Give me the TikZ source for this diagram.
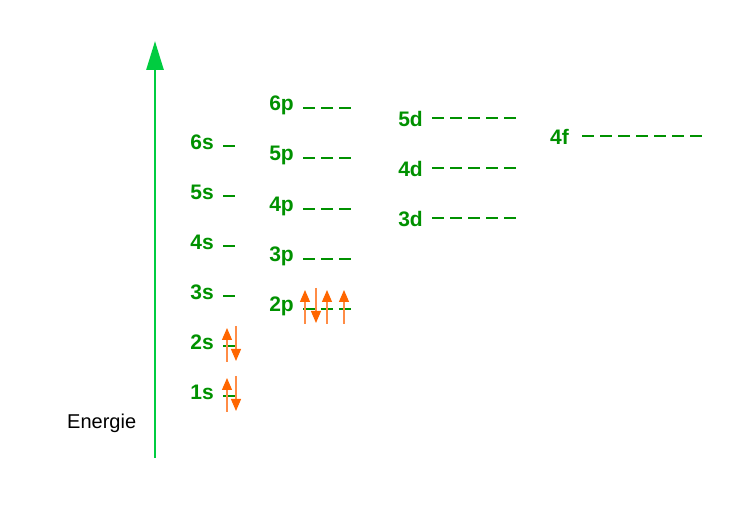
\documentclass[tikz,border=0pt]{standalone}
\usepackage{fontspec}
\setmainfont{Liberation Sans}
\usepackage{tikz}
\usetikzlibrary{arrows.meta}
\definecolor{labelgreen}{RGB}{0,145,0}
\definecolor{axisgreen}{RGB}{0,204,64}
\definecolor{spinorange}{RGB}{255,102,0}
\definecolor{shaftorange}{RGB}{255,140,70}

\begin{document}
\begin{tikzpicture}[x=1pt,y=-1pt,
            lbl/.style={font=\bfseries\fontsize{21}{25}\selectfont,text=labelgreen,inner sep=0pt,anchor=base east},
            level/.style={draw=labelgreen,line width=2.2pt,dash pattern=on 12pt off 6pt},
            electron/.style={draw=shaftorange,line width=1.2pt,-{Triangle[length=12pt,width=10pt,color=spinorange,fill=spinorange]}}
            ]
            \useasboundingbox (0,0) rectangle (748,518);
            
            % The axis
            \coordinate (bottom) at (155,458);
            \coordinate (top) at (155,41);
            \draw[axisgreen,line width=2.8pt,-{Triangle[length=29pt,width=17pt]}] (bottom) -- (top);
            \node[font=\fontsize{20}{24}\selectfont,inner sep=0pt,anchor=base west] (energie) at (67,429) {Energie};
            
            % The levels
            \foreach \n/\y in {1/400,2/350,3/300,4/250,5/200,6/150}
                {\node[lbl] (s\n) at (214,\y) {\n s};
                \draw[level] ([shift={(9pt,4pt)}]s\n.base east) -- ++(12,0);}
            \foreach \n/\y in {2/312,3/262,4/212,5/161,6/111}
                {\node[lbl] (p\n) at (294,\y) {\n p};
                \draw[level] ([shift={(9pt,3pt)}]p\n.base east) -- ++(48,0);}
            \foreach \n/\y in {3/227,4/177,5/127}
                {\node[lbl] (d\n) at (423,\y) {\n d};
                \draw[level] ([shift={(9pt,9pt)}]d\n.base east) -- ++(84,0);}
            \node[lbl] (f4) at (569,145) {4f};
            \draw[level] ([shift={(13pt,9pt)}]f4.base east) -- ++(120,0);
            
            % The electrons
            \foreach \x/\y in {227/396,227/346,305/308,327/308,344/308}
                \draw[electron] (\x,\y+16) -- (\x,\y-18);
            \foreach \x/\y in {236/396,236/346,316/308}
                \draw[electron] (\x,\y-20) -- (\x,\y+15);
        \end{tikzpicture}
\end{document}
